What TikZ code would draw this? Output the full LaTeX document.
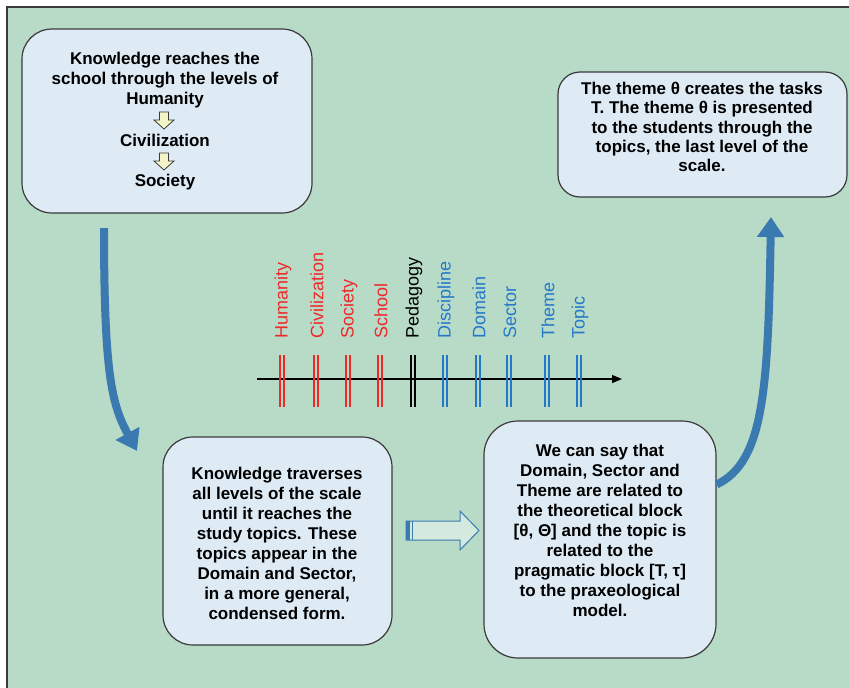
\documentclass[tikz,border=0pt]{standalone}
\usepackage{fontspec}
\setmainfont{Liberation Sans}
\usetikzlibrary{arrows.meta}
\definecolor{bgGreen}{HTML}{B8DBC8}
\definecolor{boxFill}{HTML}{DEEBF5}
\definecolor{boxLine}{HTML}{3A3A3A}
\definecolor{flowBlue}{HTML}{3A7AB0}
\definecolor{levRed}{HTML}{F02828}
\definecolor{levBlue}{HTML}{2478C8}
\definecolor{hollowFill}{HTML}{D4EADF}
\definecolor{stepYellow}{HTML}{F3F5C6}

\begin{document}
\begin{tikzpicture}[x=1pt,y=-1pt,
  card/.style={draw=boxLine, line width=1.2pt, fill=boxFill, rounded corners=#1, inner sep=0pt},
  card/.default=28pt,
  cardtext/.style={font=\fontsize{17}{20}\selectfont\bfseries, align=center, inner sep=0pt},
  level/.style={rotate=90, anchor=west, font=\fontsize{18}{20}\selectfont, inner sep=0pt},
  flow/.style={draw=flowBlue, line width=8pt, -{Triangle[length=20pt,width=26pt]}},
  tick/.style={line width=1.7pt},
  stepdown/.style={fill=stepYellow, draw=boxLine, line width=0.8pt, line join=miter},
]
\useasboundingbox (0,0) rectangle (849,688);
% page background
\fill[white] (0,0) rectangle (849,688);
\draw[fill=bgGreen, draw=boxLine, line width=1.2pt] (7,7) rectangle (870,710);

% boxes
\node[card=30pt, minimum width=290pt, minimum height=184pt] (b1) at (167,121) {};
\node[card=22pt, minimum width=289pt, minimum height=125pt] (b2) at (702.5,134.5) {};
\node[card=30pt, minimum width=229pt, minimum height=208pt] (b3) at (277.5,541) {};
\node[card=34pt, minimum width=232pt, minimum height=237pt] (b4) at (600,539.5) {};

% box texts
\node[cardtext] (t1) at (165,80) {Knowledge reaches the\\school through the levels of\\Humanity};
\node[cardtext] (t1b) at (165,140) {Civilization};
\node[cardtext] (t1c) at (165,182) {Society};
\foreach \y in {112,153}
  \draw[stepdown] (159.5,\y) -- (168.5,\y) -- (168.5,\y+8) -- (174,\y+8) -- (164,\y+17)
                  -- (154,\y+8) -- (159.5,\y+8) -- cycle;

\node[cardtext, font=\fontsize{17}{19.4}\selectfont\bfseries] (t2) at (702,127)
  {The theme θ creates the tasks\\T. The theme θ is presented\\to the students through the\\topics, the last level of the\\scale.};
\node[cardtext] (t3) at (277,543)
  {Knowledge traverses\\all levels of the scale\\until it reaches the\\study topics. These\\topics appear in the\\Domain and Sector,\\in a more general,\\condensed form.};
\node[cardtext] (t4) at (600,530)
  {We can say that\\Domain, Sector and\\Theme are related to\\the theoretical block\\{[}θ, Θ{]} and the topic is\\related to the\\pragmatic block {[}T, τ{]}\\to the praxeological\\model.};

% curved flow arrows
\coordinate (f1s) at (104,228);
\coordinate (f1e) at (137,451);
\draw[flow] (f1s) .. controls (104,375) and (112,405) .. (f1e);
\coordinate (f2s) at ([yshift=55pt]b4.east);
\coordinate (f2e) at (771,217);
\draw[flow] (f2s) .. controls (764,462) and (768,390) .. (f2e);

% hollow arrow from b3 to b4
\draw[draw=flowBlue, fill=hollowFill, line width=1pt, line join=miter]
  (406,521) -- (460,521) -- (460,511) -- (479,530.5) -- (460,550) -- (460,540) -- (406,540) -- cycle;
\fill[flowBlue] (406,521) rectangle (410,540);
\draw[flowBlue, line width=0.8pt] (412,521) -- (412,540);

% the scale of levels
\coordinate (axL) at (257,379);
\coordinate (axR) at (622,379);
\draw[line width=1.2pt, -{Triangle[length=10pt,width=8pt]}] (axL) -- (axR);
\foreach \x/\c/\t/\n in {282/levRed/Humanity/hum, 316/levRed/Civilization/civ,
    348/levRed/Society/soc, 380/levRed/School/sch, 413/black/Pedagogy/ped,
    445/levBlue/Discipline/dis, 478/levBlue/Domain/dom, 509/levBlue/Sector/sec,
    547/levBlue/Theme/the, 579/levBlue/Topic/top} {
  \draw[tick, draw=\c] (\x-1.7,355) -- (\x-1.7,407) (\x+1.7,355) -- (\x+1.7,407);
  \node[level, text=\c] (lv-\n) at (\x+1,339) {\t};
}
\end{tikzpicture}
\end{document}
